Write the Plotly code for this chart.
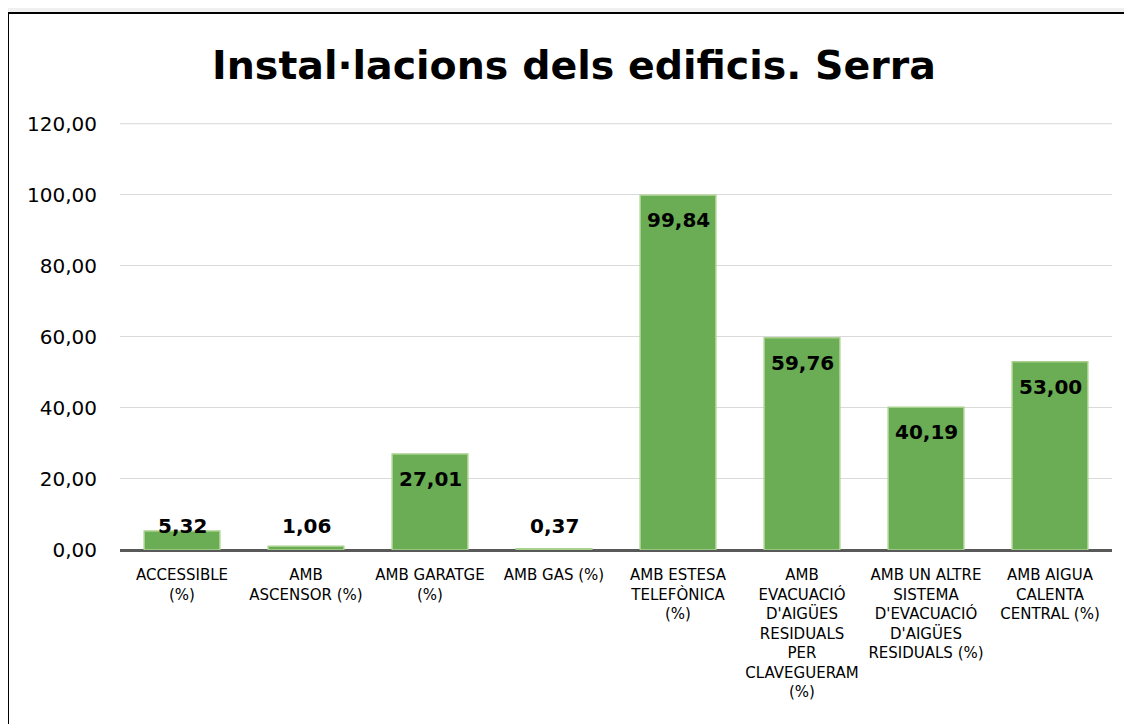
import plotly.graph_objects as go

categories = [
    "ACCESSIBLE<br>(%)",
    "AMB<br>ASCENSOR (%)",
    "AMB GARATGE<br>(%)",
    "AMB GAS (%)",
    "AMB ESTESA<br>TELEFÒNICA<br>(%)",
    "AMB<br>EVACUACIÓ<br>D'AIGÜES<br>RESIDUALS<br>PER<br>CLAVEGUERAM<br>(%)",
    "AMB UN ALTRE<br>SISTEMA<br>D'EVACUACIÓ<br>D'AIGÜES<br>RESIDUALS (%)",
    "AMB AIGUA<br>CALENTA<br>CENTRAL (%)",
]
values = [5.32, 1.06, 27.01, 0.37, 99.84, 59.76, 40.19, 53.00]
y_ticks = [0, 20, 40, 60, 80, 100, 120]
title_text = "Instal·lacions dels edificis. Serra"

FONT = "DejaVu Sans"

fig = go.Figure(go.Bar(
    x=categories, y=values,
    marker=dict(color="#6aad55", line=dict(color="#a9d18e", width=1.5)),
    hoverinfo="x+y",
))

annotations = []
for c, v in zip(categories, values):
    label = "<b>" + f"{v:.2f}".replace(".", ",") + "</b>"
    if v >= 10:
        annotations.append(dict(x=c, y=v, yshift=-25, yanchor="middle",
                                text=label, showarrow=False,
                                font=dict(family=FONT, size=20, color="black")))
    else:
        annotations.append(dict(x=c, y=0, yshift=24, yanchor="middle",
                                text=label, showarrow=False,
                                font=dict(family=FONT, size=20, color="black")))

fig.update_layout(
    width=1132, height=724,
    paper_bgcolor="#f0f0f0", plot_bgcolor="white",
    margin=dict(l=112, r=28, t=115, b=182),
    separators=",.",
    bargap=0.39,
    showlegend=False,
    title=dict(text=f"<b>{title_text}</b>", x=0.5, xanchor="center",
               y=1 - 57 / 724, yanchor="middle",
               font=dict(family=FONT, size=39.5, color="black")),
    xaxis=dict(tickfont=dict(family=FONT, size=15, color="black"),
               showgrid=False, showline=False, ticks="", tickangle=0,
               ticklabelstandoff=14),
    yaxis=dict(range=[0, 120.2], tickvals=y_ticks,
               tickformat=".2f",
               tickfont=dict(family=FONT, size=20, color="black"),
               gridcolor="#d9d9d9", gridwidth=1, showline=False,
               zeroline=True, zerolinecolor="#595959", zerolinewidth=3,
               ticks="", ticklabelstandoff=22),
    annotations=annotations,
    shapes=[
        dict(type="rect", xref="paper", yref="paper",
             x0=(0 - 112) / 992, x1=1.2, y0=-0.6, y1=(542 - 5) / 427,
             fillcolor="white", line=dict(color="black", width=2),
             layer="below"),
        dict(type="line", xref="paper", yref="y", x0=0, x1=1,
             y0=y_ticks[-1], y1=y_ticks[-1],
             line=dict(color="#d9d9d9", width=1), layer="below"),
    ],
)

fig.write_html("out.html")
